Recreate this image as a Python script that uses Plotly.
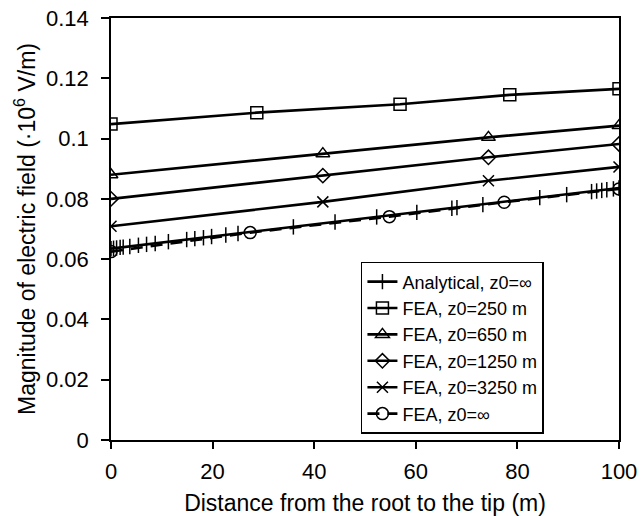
import plotly.graph_objects as go

# Analytical, z0=inf
x_an = [0, 0.5, 1.1, 1.8, 2.4, 3.7, 5.4, 7.0, 8.7, 11.3, 14.9, 16.5, 18.2, 19.8, 22.6, 25.0,
        35.9, 44.1, 52.3, 60.2, 67.1, 68.1, 73.2, 84.4, 89.7, 94.6, 95.6, 96.6, 97.6, 98.9, 100]
y_an = [0.0635, 0.0636, 0.0637, 0.0639, 0.0640, 0.0642, 0.0646, 0.0649, 0.0652, 0.0658, 0.0665,
        0.0668, 0.0671, 0.0675, 0.0680, 0.0685, 0.0707, 0.0723, 0.0740, 0.0755, 0.0769, 0.0771,
        0.0781, 0.0804, 0.0814, 0.0824, 0.0826, 0.0828, 0.0830, 0.0833, 0.0836]

x_250 = [0, 28.7, 56.9, 78.5, 100]
y_250 = [0.1048, 0.1086, 0.1114, 0.1145, 0.1165]

x_650 = [0, 41.7, 74.3, 100]
y_650 = [0.0880, 0.0950, 0.1004, 0.1043]

x_1250 = [0, 41.7, 74.3, 100]
y_1250 = [0.0800, 0.0877, 0.0938, 0.0982]

x_3250 = [0, 41.7, 74.3, 100]
y_3250 = [0.0709, 0.0790, 0.0860, 0.0906]

x_inf = [0, 27.4, 54.8, 77.4, 100]
y_inf = [0.0625, 0.0688, 0.0741, 0.0789, 0.0833]

FONT = "Arial, Liberation Sans, sans-serif"
LW = 2.6

fig = go.Figure()

def add(x, y, name, symbol, size, rank, dash="solid"):
    fig.add_trace(go.Scatter(
        x=x, y=y, name=name, mode="lines+markers", legendrank=rank,
        line=dict(color="black", width=LW, dash=dash),
        marker=dict(symbol=symbol, size=size, color="black",
                    line=dict(color="black", width=1.5)),
    ))

add(x_250, y_250, "FEA, z0=250 m", "square-open", 12, 2)
add(x_650, y_650, "FEA, z0=650 m", "triangle-up-open", 12, 3)
add(x_1250, y_1250, "FEA, z0=1250 m", "diamond-open", 11, 4)
add(x_3250, y_3250, "FEA, z0=3250 m", "x-thin-open", 11, 5)
add(x_an, y_an, "Analytical, z0=∞", "line-ns-open", 11, 1)
add(x_inf, y_inf, "FEA, z0=∞", "circle-open", 12, 6, dash="12px,8px")

fig.update_layout(
    width=641, height=516,
    margin=dict(l=111, r=22, t=18, b=76),
    paper_bgcolor="white", plot_bgcolor="white",
    font=dict(family=FONT, size=22, color="black"),
    showlegend=True,
    legend=dict(x=0.492, y=0.422, xanchor="left", yanchor="top",
                bordercolor="black", borderwidth=1.5, bgcolor="white",
                font=dict(size=18), tracegroupgap=0),
)
fig.update_xaxes(
    range=[0, 100], tickvals=[0, 20, 40, 60, 80, 100],
    showgrid=False, zeroline=False, automargin=False,
    showline=True, linecolor="black", linewidth=1.5, mirror=True,
    ticks="outside", ticklen=7, tickwidth=1.5, tickcolor="black",
    ticklabelstandoff=4,
    title=dict(text="Distance from the root to the tip (m)", font=dict(size=23), standoff=12),
)
fig.update_yaxes(
    range=[0, 0.14], tickvals=[0, 0.02, 0.04, 0.06, 0.08, 0.1, 0.12, 0.14],
    ticktext=["0", "0.02", "0.04", "0.06", "0.08", "0.1", "0.12", "0.14"],
    showgrid=False, zeroline=False, automargin=False,
    showline=True, linecolor="black", linewidth=1.5, mirror=True,
    ticks="outside", ticklen=8, tickwidth=1.5, tickcolor="black",
    ticklabelstandoff=8,
    title=dict(text="Magnitude of electric field (·10<sup>6</sup> V/m)", font=dict(size=23), standoff=4),
)

fig.write_html("out.html")
